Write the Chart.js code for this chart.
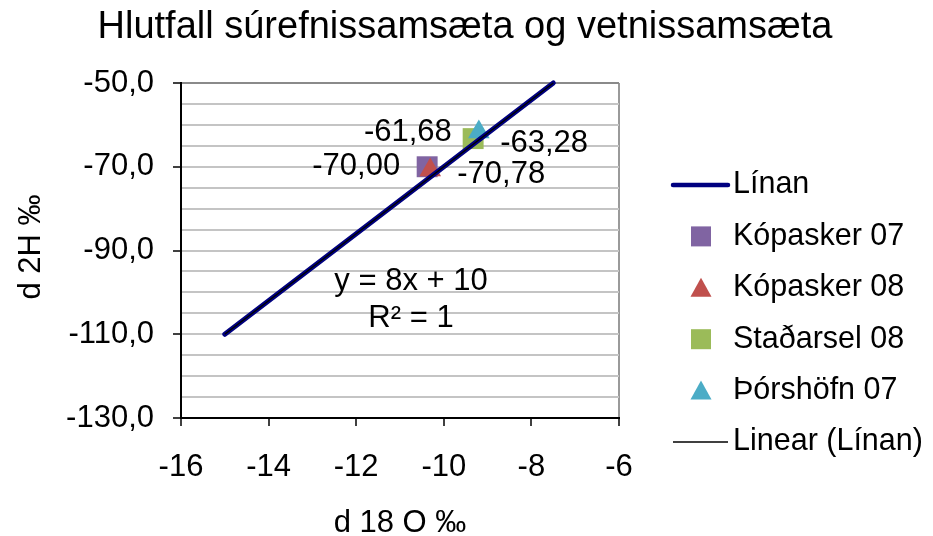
<!DOCTYPE html>
<html>
<head>
<meta charset="utf-8">
<script src="https://cdn.jsdelivr.net/npm/chart.js@4/dist/chart.umd.min.js"></script>
<style>
  html, body { margin: 0; padding: 0; background: #ffffff; }
  #wrap { width: 933px; height: 536px; }
</style>
</head>
<body>
<div id="wrap"><canvas id="chart" width="933" height="536"></canvas></div>
<script>
// ---- Texts ----
const chartTitle = 'Hlutfall súrefnissamsæta og vetnissamsæta';
const xAxisTitle = 'd 18 O ‰';
const yAxisTitle = 'd 2H ‰';

// ---- Meteoric reference line "Línan" (d18O, d2H) ----
const lineName = 'Línan';
const lineO18 = [-15, -10, -7.5];
const lineH2 = [-110, -70, -50];

// ---- Water samples ----
const sampleNames = ['Kópasker 07', 'Kópasker 08', 'Staðarsel 08', 'Þórshöfn 07'];
const sampleO18 = [-10.38, -10.31, -9.33, -9.20];
const sampleH2 = [-70.00, -70.78, -63.28, -61.68];

// ---- Axis ticks ----
const xTickValues = [-16, -14, -12, -10, -8, -6];
const yTickLabelValues = [-130, -110, -90, -70, -50];
const yGridStep = 5;

// ---- Styling ----
const FONT = "'Liberation Sans', Arial, Helvetica, sans-serif";
const sampleColors = ['#8064A2', '#C0504D', '#9BBB59', '#4BACC6'];
const sampleShapes = ['rect', 'triangle', 'rect', 'triangle'];
const labelSides = ['left', 'right', 'right', 'left'];
const labelDrop = [0, 4, 5, 1];

// Least-squares fit through the reference line points
function linearFit(xs, ys) {
  const n = xs.length;
  const mx = xs.reduce((a, b) => a + b, 0) / n;
  const my = ys.reduce((a, b) => a + b, 0) / n;
  let sxy = 0, sxx = 0, syy = 0;
  for (let i = 0; i < n; i++) {
    sxy += (xs[i] - mx) * (ys[i] - my);
    sxx += (xs[i] - mx) ** 2;
    syy += (ys[i] - my) ** 2;
  }
  const slope = sxy / sxx;
  const intercept = my - slope * mx;
  const r2 = (sxy * sxy) / (sxx * syy);
  return { slope, intercept, r2 };
}
const fit = linearFit(lineO18, lineH2);
const fitX = [Math.min(...lineO18), Math.max(...lineO18)];
const fmtNum = v => String(Math.round(v * 1000) / 1000).replace('.', ',');

const datasets = [];
datasets.push({
  label: lineName,
  data: lineO18.map((x, i) => ({ x, y: lineH2[i] })),
  showLine: true,
  borderColor: '#000080',
  backgroundColor: '#000080',
  borderWidth: 5,
  borderCapStyle: 'round',
  pointRadius: 0,
  clip: false,
  order: 1,
  legendKind: 'line'
});
sampleNames.forEach((name, i) => {
  datasets.push({
    label: name,
    data: [{ x: sampleO18[i], y: sampleH2[i] }],
    pointStyle: sampleShapes[i],
    pointRadius: sampleShapes[i] === 'rect' ? 14.8 : 12.5,
    backgroundColor: sampleColors[i],
    borderColor: sampleColors[i],
    borderWidth: 0,
    order: 5 - i,
    legendKind: sampleShapes[i],
    labelSide: labelSides[i],
    labelDrop: labelDrop[i]
  });
});
datasets.push({
  label: 'Linear (' + lineName + ')',
  data: fitX.map(x => ({ x, y: fit.slope * x + fit.intercept })),
  showLine: true,
  borderColor: '#000000',
  backgroundColor: '#000000',
  borderWidth: 1.5,
  pointRadius: 0,
  clip: false,
  order: 0,
  legendKind: 'thin'
});

// Title, axis titles, equation, data labels and legend
const decorPlugin = {
  id: 'decor',
  afterDatasetsDraw(chart) {
    const ctx = chart.ctx;
    ctx.save();
    ctx.fillStyle = '#000';
    ctx.textBaseline = 'middle';

    // value labels next to sample markers
    ctx.font = '31px ' + FONT;
    chart.data.datasets.forEach((ds, di) => {
      if (!ds.labelSide) return;
      const meta = chart.getDatasetMeta(di);
      meta.data.forEach((pt, pi) => {
        const v = ds.data[pi].y;
        const txt = v.toFixed(2).replace('.', ',');
        if (ds.labelSide === 'left') {
          ctx.textAlign = 'right';
          ctx.fillText(txt, pt.x - 27, pt.y + ds.labelDrop);
        } else {
          ctx.textAlign = 'left';
          ctx.fillText(txt, pt.x + 27, pt.y + ds.labelDrop);
        }
      });
    });

    // trendline equation
    ctx.textAlign = 'center';
    const eq = 'y = ' + fmtNum(fit.slope) + 'x + ' + fmtNum(fit.intercept);
    ctx.fillText(eq, 411, 281);
    ctx.fillText('R² = ' + fmtNum(fit.r2), 411, 318);
    ctx.restore();
  },
  afterDraw(chart) {
    const ctx = chart.ctx;
    ctx.save();
    ctx.fillStyle = '#000';
    ctx.textBaseline = 'middle';

    // chart title
    ctx.textAlign = 'center';
    ctx.font = '38px ' + FONT;
    ctx.fillText(chartTitle, 465, 28);

    // axis titles
    ctx.font = '31px ' + FONT;
    ctx.fillText(xAxisTitle, 400, 523);
    ctx.save();
    ctx.translate(31, 247);
    ctx.rotate(-Math.PI / 2);
    ctx.fillText(yAxisTitle, 0, 0);
    ctx.restore();

    // legend
    const symL = 673, symR = 728, symC = 701, textX = 733;
    const top = 185, step = 51.4;
    ctx.textAlign = 'left';
    ctx.font = '30.5px ' + FONT;
    chart.data.datasets.forEach((ds, i) => {
      const y = top + i * step;
      ctx.fillStyle = ds.backgroundColor;
      ctx.strokeStyle = ds.borderColor;
      if (ds.legendKind === 'line' || ds.legendKind === 'thin') {
        ctx.lineWidth = ds.legendKind === 'line' ? 4.5 : 1.5;
        ctx.lineCap = ds.legendKind === 'line' ? 'round' : 'butt';
        ctx.beginPath();
        ctx.moveTo(symL, y);
        ctx.lineTo(symR, y);
        ctx.stroke();
      } else if (ds.legendKind === 'rect') {
        ctx.fillRect(symC - 10, y - 10, 20, 20);
      } else if (ds.legendKind === 'triangle') {
        ctx.beginPath();
        ctx.moveTo(symC, y - 10);
        ctx.lineTo(symC + 10.5, y + 9);
        ctx.lineTo(symC - 10.5, y + 9);
        ctx.closePath();
        ctx.fill();
      }
      ctx.fillStyle = '#000';
      ctx.fillText(ds.label, textX, y);
    });
    ctx.restore();
  }
};

const isYLabel = v => yTickLabelValues.some(t => Math.abs(t - v) < 1e-9);

new Chart(document.getElementById('chart'), {
  type: 'scatter',
  data: { datasets },
  options: {
    responsive: false,
    animation: false,
    devicePixelRatio: 1,
    events: [],
    layout: { padding: { left: 0, top: 83, right: 314, bottom: 0 } },
    plugins: {
      legend: { display: false },
      title: { display: false },
      tooltip: { enabled: false }
    },
    scales: {
      x: {
        type: 'linear',
        min: Math.min(...xTickValues),
        max: Math.max(...xTickValues),
        afterBuildTicks: s => { s.ticks = xTickValues.map(v => ({ value: v })); },
        afterFit: s => { s.height = 118; },
        ticks: {
          color: '#000',
          font: { family: FONT, size: 31 },
          padding: 23,
          maxRotation: 0,
          autoSkip: false,
          callback: v => String(v)
        },
        grid: {
          drawOnChartArea: true,
          color: c => (c.tick && c.tick.value === Math.max(...xTickValues)) ? '#9a9a9a' : 'rgba(0,0,0,0)',
          lineWidth: 2,
          tickColor: '#000',
          tickLength: 8,
          tickWidth: 1.5
        },
        border: { display: true, color: '#000', width: 2 }
      },
      y: {
        type: 'linear',
        min: Math.min(...yTickLabelValues),
        max: Math.max(...yTickLabelValues),
        afterBuildTicks: s => {
          const t = [];
          for (let v = s.min; v <= s.max + 1e-9; v += yGridStep) t.push({ value: v });
          s.ticks = t;
        },
        afterFit: s => { s.width = 181; },
        ticks: {
          color: '#000',
          font: { family: FONT, size: 31 },
          padding: 19,
          autoSkip: false,
          callback: v => isYLabel(v) ? v.toFixed(1).replace('.', ',') : ''
        },
        grid: {
          color: c => (c.tick && c.tick.value === Math.max(...yTickLabelValues)) ? '#8a8a8a' : '#c4c4c4',
          lineWidth: 2,
          tickColor: c => (c.tick && isYLabel(c.tick.value)) ? '#000' : 'rgba(0,0,0,0)',
          tickLength: 8,
          tickWidth: 1.5
        },
        border: { display: true, color: '#000', width: 2 }
      }
    }
  },
  plugins: [decorPlugin]
});
</script>
</body>
</html>
